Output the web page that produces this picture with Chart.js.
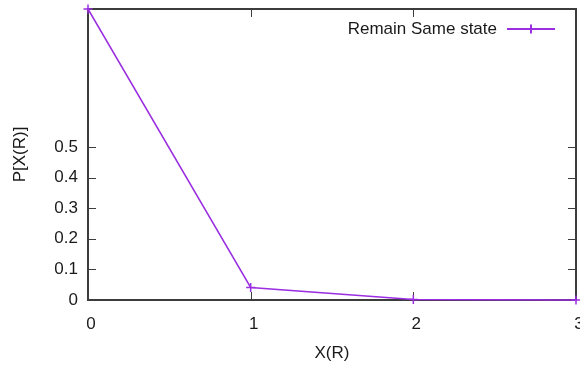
<!DOCTYPE html>
<html>
<head>
<meta charset="utf-8">
<script src="https://cdn.jsdelivr.net/npm/chart.js@4"></script>
<style>
  html, body { margin: 0; padding: 0; background: #fff; }
  #wrap { width: 580px; height: 366px; overflow: hidden; }
</style>
</head>
<body>
<div id="wrap"><canvas id="chart" width="590" height="366"></canvas></div>
<script>
const xValues = [0, 1, 2, 3];
const yValues = [0.951, 0.041, 0.002, 0];
const yTicks = [0, 0.1, 0.2, 0.3, 0.4, 0.5];
const xTicks = [0, 1, 2, 3];
const seriesName = 'Remain Same state';

const purple = '#9a2ee0';
const axisColor = '#3c3c3c';
const textColor = '#1a1a1a';
const font = 'Liberation Sans, Arial, sans-serif';
const fontSize = 17;

// gnuplot style frame with inward ticks on all four sides, plus the key
const frame = {
  id: 'frame',
  beforeDatasetsDraw(chart) {
    const { ctx, chartArea: a, scales } = chart;
    const len = 8;
    ctx.save();
    ctx.strokeStyle = axisColor;
    ctx.lineWidth = 1;
    scales.y.ticks.forEach(t => {
      const py = Math.round(scales.y.getPixelForValue(t.value)) + 0.5;
      ctx.beginPath();
      ctx.moveTo(a.left, py); ctx.lineTo(a.left + len, py);
      ctx.moveTo(a.right, py); ctx.lineTo(a.right - len, py);
      ctx.stroke();
    });
    scales.x.ticks.forEach(t => {
      const px = Math.round(scales.x.getPixelForValue(t.value)) + 0.5;
      ctx.beginPath();
      ctx.moveTo(px, a.bottom); ctx.lineTo(px, a.bottom - len);
      ctx.moveTo(px, a.top); ctx.lineTo(px, a.top + len);
      ctx.stroke();
    });
    ctx.lineWidth = 2;
    ctx.strokeRect(a.left, a.top, a.right - a.left, a.bottom - a.top);
    ctx.restore();
  },
  afterDatasetsDraw(chart) {
    const { ctx, chartArea: a } = chart;
    const ly = a.top + 20;
    const x1 = a.right - 69, x2 = a.right - 21;
    ctx.save();
    ctx.font = fontSize + 'px ' + font;
    ctx.fillStyle = textColor;
    ctx.textAlign = 'right';
    ctx.textBaseline = 'middle';
    ctx.fillText(seriesName, x1 - 10, ly);
    ctx.strokeStyle = purple;
    ctx.lineWidth = 2;
    ctx.beginPath();
    ctx.moveTo(x1, ly); ctx.lineTo(x2, ly);
    const cx = (x1 + x2) / 2;
    ctx.moveTo(cx, ly - 4.5); ctx.lineTo(cx, ly + 4.5);
    ctx.stroke();
    ctx.restore();
  }
};

new Chart(document.getElementById('chart'), {
  type: 'scatter',
  data: {
    datasets: [{
      label: seriesName,
      data: xValues.map((x, i) => ({ x: x, y: yValues[i] })),
      showLine: true,
      borderColor: purple,
      backgroundColor: purple,
      borderWidth: 1.5,
      pointStyle: 'cross',
      pointRadius: 4.5,
      pointBorderWidth: 1.5,
      clip: false
    }]
  },
  options: {
    responsive: false,
    animation: false,
    devicePixelRatio: 1,
    layout: { padding: { top: 9, right: 14, bottom: 0, left: 0 } },
    plugins: { legend: { display: false }, tooltip: { enabled: false } },
    scales: {
      x: {
        type: 'linear',
        min: 0, max: 3,
        grid: { display: false },
        border: { display: false },
        afterBuildTicks: s => { s.ticks = xTicks.map(v => ({ value: v })); },
        afterFit: s => { s.height = 66; s.paddingLeft = 0; s.paddingRight = 0; },
        ticks: { padding: 6, labelOffset: 3, color: textColor, font: { family: font, size: fontSize } },
        title: { display: true, text: 'X(R)', color: textColor, padding: { top: 2, bottom: 2 }, font: { family: font, size: fontSize } }
      },
      y: {
        min: 0, max: yValues[0],
        grid: { display: false },
        border: { display: false },
        afterBuildTicks: s => { s.ticks = yTicks.map(v => ({ value: v })); },
        afterFit: s => { s.width = 88; s.paddingTop = 0; s.paddingBottom = 0; },
        ticks: { padding: 2, color: textColor, font: { family: font, size: fontSize } },
        title: { display: true, text: 'P[X(R)]', color: textColor, padding: { top: 10, bottom: 0 }, font: { family: font, size: fontSize } }
      }
    }
  },
  plugins: [frame]
});
</script>
</body>
</html>
